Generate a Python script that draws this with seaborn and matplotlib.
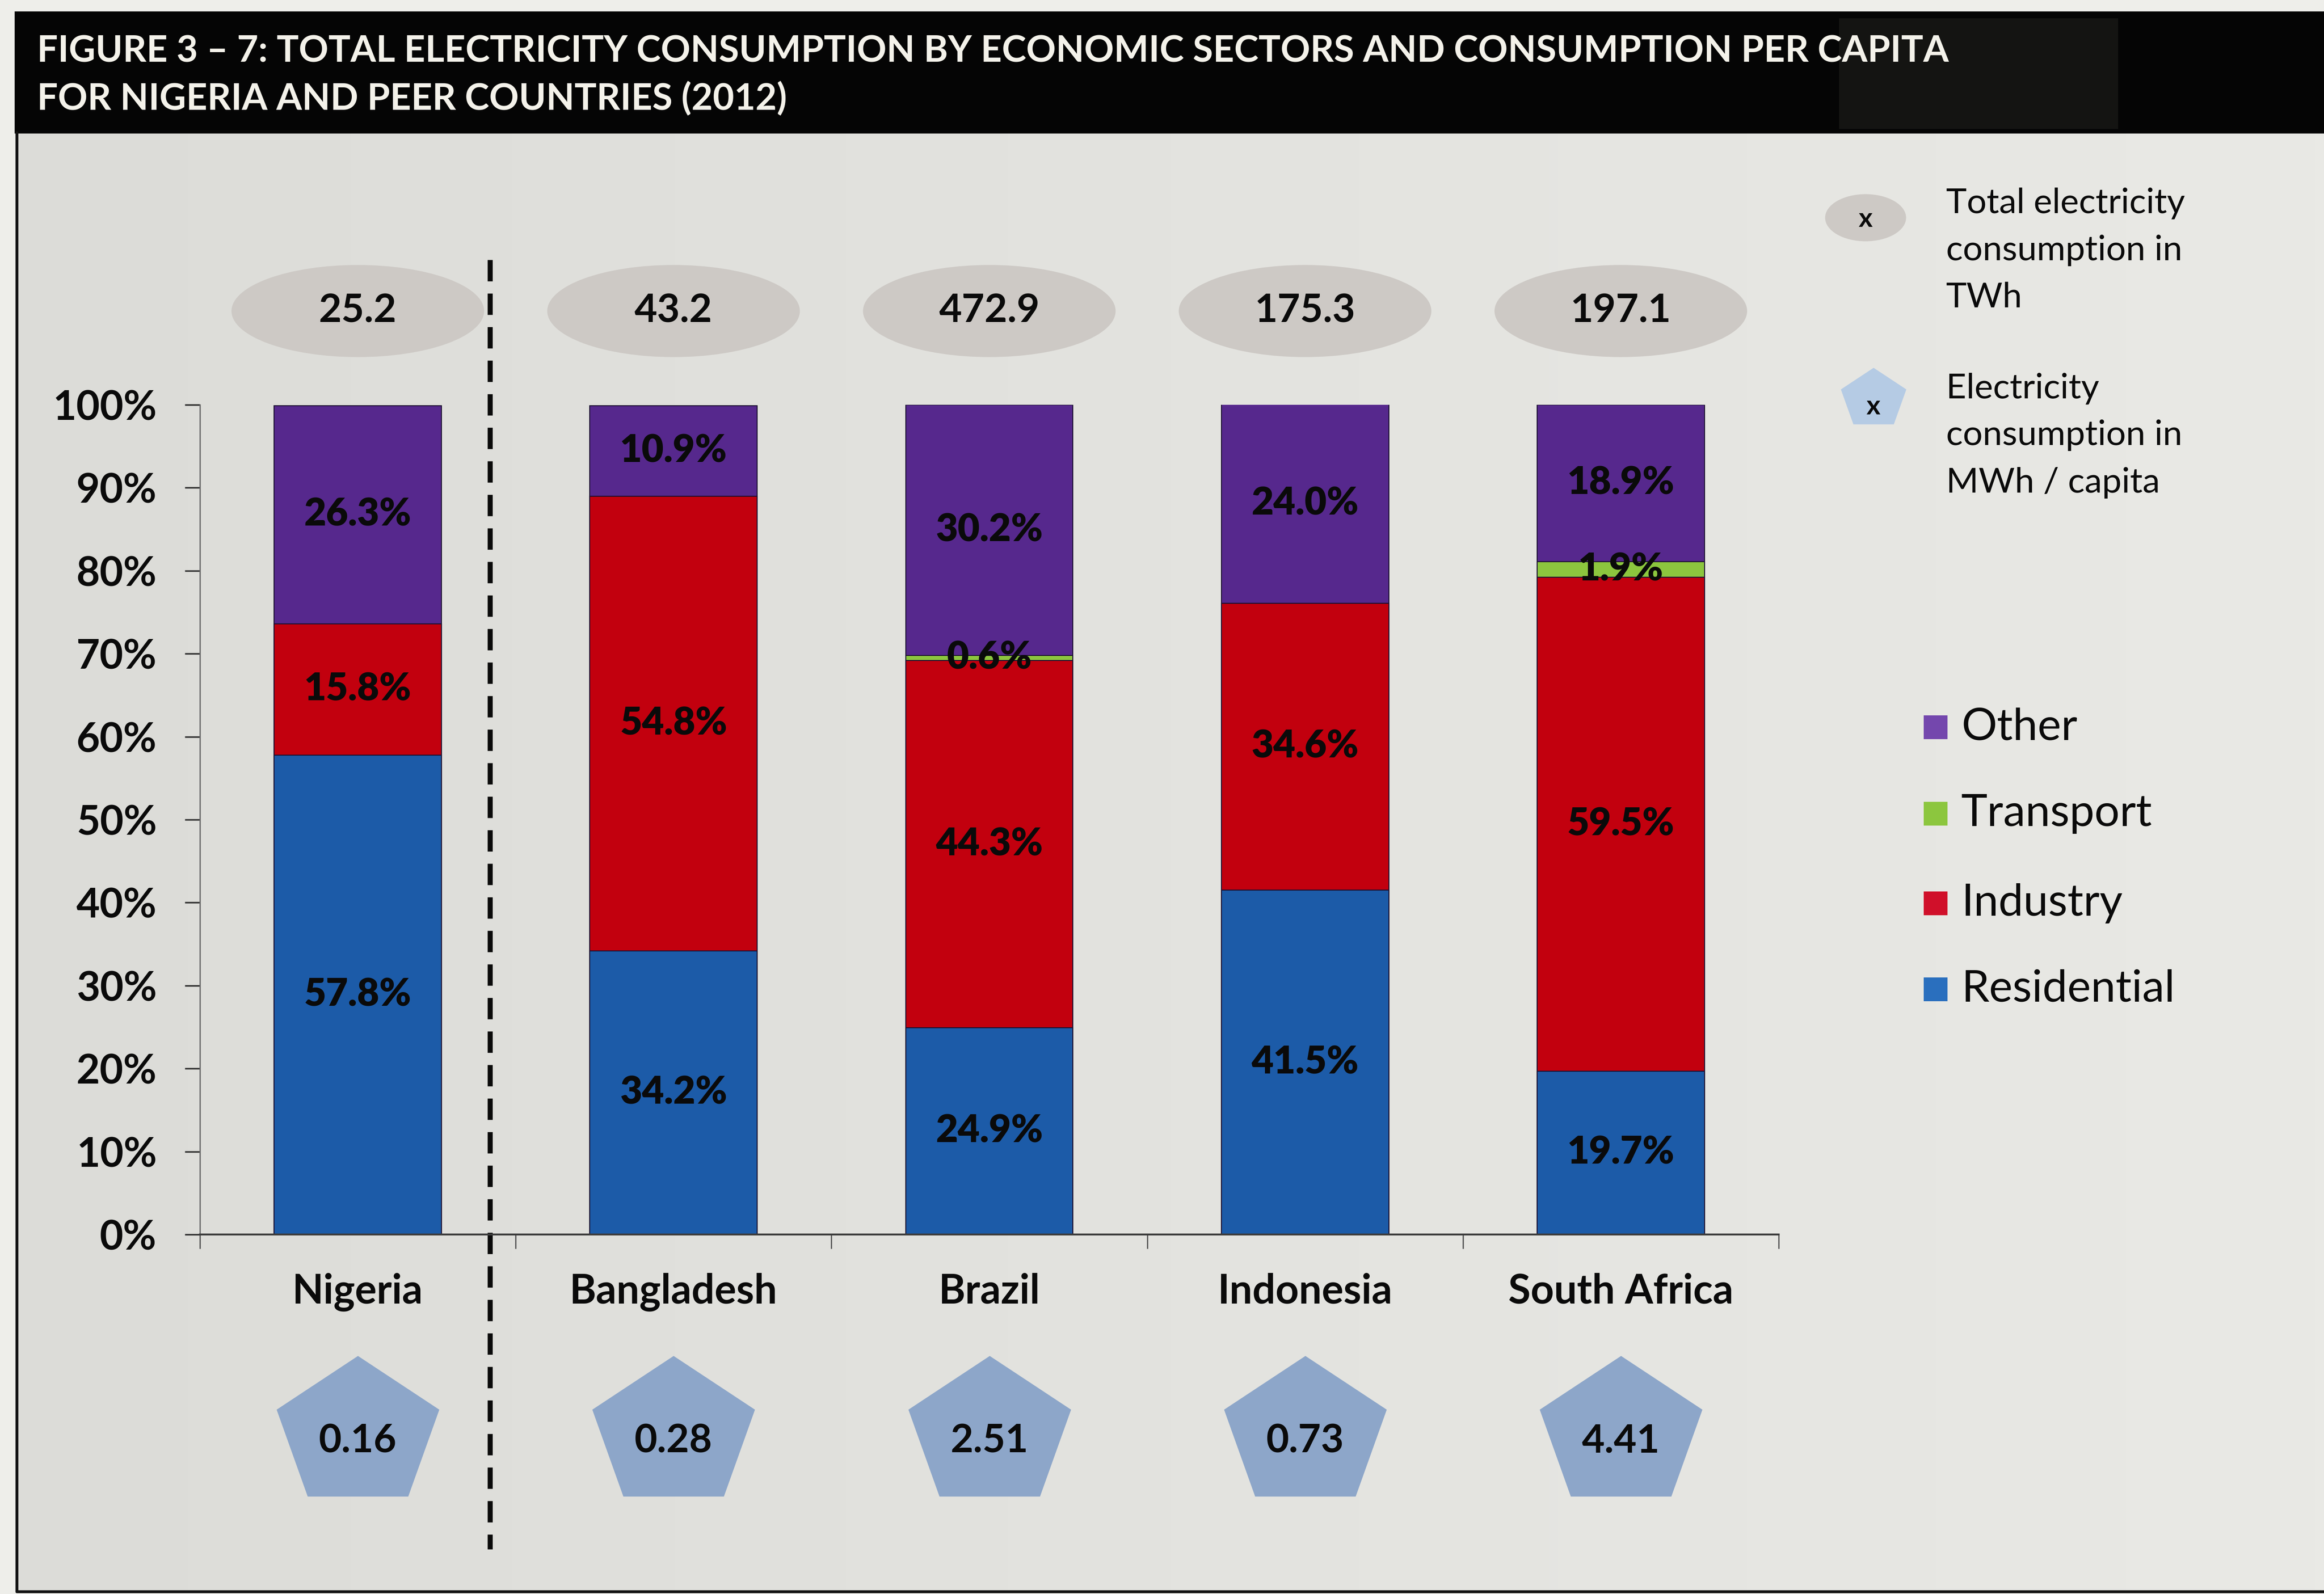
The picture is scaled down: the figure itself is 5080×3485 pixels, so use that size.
import matplotlib
matplotlib.use("Agg")
import numpy as np
import pandas as pd
import matplotlib.pyplot as plt
import seaborn as sns
from matplotlib.patches import Ellipse, Rectangle
from matplotlib.lines import Line2D

# ---- data -------------------------------------------------------------
countries = ["Nigeria", "Bangladesh", "Brazil", "Indonesia", "South Africa"]
residential = [57.8, 34.2, 24.9, 41.5, 19.7]
industry = [15.8, 54.8, 44.3, 34.6, 59.5]
transport = [0.0, 0.0, 0.6, 0.0, 1.9]
other = [26.3, 10.9, 30.2, 24.0, 18.9]
total_twh = [25.2, 43.2, 472.9, 175.3, 197.1]
mwh_per_capita = [0.16, 0.28, 2.51, 0.73, 4.41]

sector_names = ["Residential", "Industry", "Transport", "Other"]
y_ticks = [0, 10, 20, 30, 40, 50, 60, 70, 80, 90, 100]
y_tick_labels = [f"{v}%" for v in y_ticks]
title_lines = [
    "FIGURE 3 \u2013 7: TOTAL ELECTRICITY CONSUMPTION BY ECONOMIC SECTORS AND CONSUMPTION PER CAPITA",
    "FOR NIGERIA AND PEER COUNTRIES (2012)",
]
twh_legend = ["Total electricity", "consumption in", "TWh"]
cap_legend = ["Electricity", "consumption in", "MWh / capita"]

# ---- style ------------------------------------------------------------
sector_colors = {
    "Residential": "#1c5ba8",
    "Industry": "#c2000e",
    "Transport": "#8cc63e",
    "Other": "#56288d",
}
legend_colors = {
    "Residential": "#2a6fbe",
    "Industry": "#d0102a",
    "Transport": "#8cc63e",
    "Other": "#7447ad",
}
ellipse_color = "#cdc9c5"
pentagon_color = "#8da6c9"

sns.set_theme(style="white")
plt.rcParams["font.family"] = ["Lato", "DejaVu Sans"]

W, H = 5080, 3485
fig = plt.figure(figsize=(W / 100, H / 100), dpi=100)
fig.patch.set_facecolor("#eeeeea")


def fx(px):
    return px / W


def fy(py):
    return 1 - py / H


# chart panel with soft left-to-right lighting
bg = fig.add_axes([fx(37), fy(3480), 1 - fx(37), fy(290) - fy(3480)], zorder=-5)
grad = np.linspace(0, 1, 256)[None, :]
bg.imshow(grad, aspect="auto", cmap=matplotlib.colors.LinearSegmentedColormap.from_list(
    "panel", ["#dcdcd8", "#e3e3df", "#e9e9e5"]), extent=[0, 1, 0, 1])
bg.set_axis_off()

# frame lines of the panel
fig.add_artist(Line2D([fx(37), fx(37)], [fy(290), fy(3480)], color="#111111", lw=4.5))
fig.add_artist(Line2D([fx(37), 1], [fy(3480), fy(3480)], color="#111111", lw=4.5))

# title band
fig.add_artist(Rectangle((fx(32), fy(292)), 1 - fx(32), fy(25) - fy(292),
                         facecolor="#050505", edgecolor="none"))
fig.add_artist(Rectangle((fx(4020), fy(282)), fx(610), fy(40) - fy(282),
                         facecolor="#141412", edgecolor="none"))
t1 = fig.text(fx(81), fy(112), title_lines[0], color="#f4f2ea", fontsize=56,
              fontweight="bold", va="center", ha="left")
t2 = fig.text(fx(81), fy(216), title_lines[1], color="#f4f2ea", fontsize=56,
              fontweight="bold", va="center", ha="left")
fig.canvas.draw()
renderer = fig.canvas.get_renderer()
scale = (4260 - 81) / t1.get_window_extent(renderer).width
for t in (t1, t2):
    t.set_fontsize(t.get_fontsize() * scale)

# ---- stacked bars -----------------------------------------------------
ax = fig.add_axes([fx(437), fy(2699), fx(3888) - fx(437), fy(885) - fy(2699)])
ax.set_facecolor("none")

df = pd.DataFrame({
    "country": countries,
    "Residential": residential,
    "Industry": industry,
    "Transport": transport,
    "Other": other,
})
tops = df[sector_names].cumsum(axis=1)
bottoms = tops - df[sector_names]

bar_width = 0.53
for sector in reversed(sector_names):
    sns.barplot(x=df["country"], y=tops[sector], color=sector_colors[sector],
                saturation=1, width=bar_width, errorbar=None,
                edgecolor="#1b1030", linewidth=1.5, ax=ax)

for i in range(len(countries)):
    for sector in sector_names:
        v = df.loc[i, sector]
        if v <= 0:
            continue
        yc = bottoms.loc[i, sector] + v / 2
        ax.text(i, yc, f"{v:.1f}%", ha="center", va="center",
                fontsize=60, fontweight="heavy", color="#0a0a0a", zorder=5)

# consumption per capita (MWh) in pentagons below the country names
ang = np.pi / 2 + np.arange(5) * 2 * np.pi / 5
pent = np.column_stack([np.cos(ang) * 1.1, np.sin(ang)])
pent = np.vstack([pent, pent[:1]])
pent_y = -24.0
sns.scatterplot(x=df["country"], y=[pent_y] * len(countries), marker=pent,
                s=256 ** 2, color=pentagon_color, linewidth=0, clip_on=False,
                ax=ax, legend=False)
for i, v in enumerate(mwh_per_capita):
    ax.text(i, pent_y - 0.9, f"{v:.2f}", ha="center", va="center", fontsize=62,
            fontweight="bold", color="#0a0a0a")

ax.set_xlim(-0.5, len(countries) - 0.5)
ax.set_ylim(0, 100)
ax.set_xlabel("")
ax.set_ylabel("")

for side in ("top", "right"):
    ax.spines[side].set_visible(False)
ax.spines["left"].set_color("#6a6a6a")
ax.spines["left"].set_linewidth(2)
ax.spines["bottom"].set_color("#3c3c3c")
ax.spines["bottom"].set_linewidth(3)

ax.set_yticks(y_ticks, y_tick_labels)
ax.tick_params(axis="y", direction="out", length=24, width=2.5, color="#333333",
               pad=44, labelsize=64, labelcolor="#0a0a0a", left=True)
for lbl in ax.get_yticklabels():
    lbl.set_fontweight("bold")

ax.set_xticks(range(len(countries)), countries)
ax.set_xticks(np.arange(-0.5, len(countries), 1.0), minor=True)
ax.tick_params(axis="x", which="major", length=0, pad=60, labelsize=64,
               labelcolor="#0a0a0a", bottom=True)
ax.tick_params(axis="x", which="minor", direction="out", length=22, width=2,
               color="#555555", bottom=True)
for lbl in ax.get_xticklabels():
    lbl.set_fontweight("bold")

# divider between Nigeria and its peers
ax.add_line(Line2D([0.418, 0.418], [117.5, -37.9], color="#0a0a0a", lw=8,
                   dashes=(4.2, 2.4), clip_on=False))

# total consumption (TWh) in ellipses above the bars
ellipse_y = 111.3
for i, v in enumerate(total_twh):
    ax.add_patch(Ellipse((i, ellipse_y), 0.8, 11.1, facecolor=ellipse_color,
                         edgecolor="none", clip_on=False))
    ax.text(i, ellipse_y, f"{v:.1f}", ha="center", va="center", fontsize=62,
            fontweight="bold", color="#0a0a0a")

# ---- legends on the right -------------------------------------------
fig.add_artist(Ellipse((fx(4078), fy(476)), fx(177), 103 / H,
                       facecolor=ellipse_color, edgecolor="none"))
fig.text(fx(4078), fy(480), "x", ha="center", va="center", fontsize=42,
         fontweight="bold", color="#0a0a0a")
fig.add_artist(Line2D([fx(4095)], [fy(872)], marker=pent, markersize=143 * 0.72,
                      color="#b5cbe4", markeredgewidth=0, linestyle="none"))
fig.text(fx(4095), fy(890), "x", ha="center", va="center", fontsize=42,
         fontweight="bold", color="#0a0a0a")
for k, line in enumerate(twh_legend):
    fig.text(fx(4254), fy(444 + 103 * k), line, ha="left", va="center",
             fontsize=55, color="#0a0a0a")
for k, line in enumerate(cap_legend):
    fig.text(fx(4254), fy(849 + 103 * k), line, ha="left", va="center",
             fontsize=55, color="#0a0a0a")

legend_rows = [("Other", 1590), ("Transport", 1779), ("Industry", 1975),
               ("Residential", 2163)]
for name, yy in legend_rows:
    fig.add_artist(Rectangle((fx(4205), fy(yy + 26)), fx(52), 52 / H,
                             facecolor=legend_colors[name], edgecolor="none"))
    fig.text(fx(4287), fy(yy), name, ha="left", va="center", fontsize=70,
             color="#0a0a0a")

fig.savefig("out.png", dpi=100, facecolor=fig.get_facecolor())
